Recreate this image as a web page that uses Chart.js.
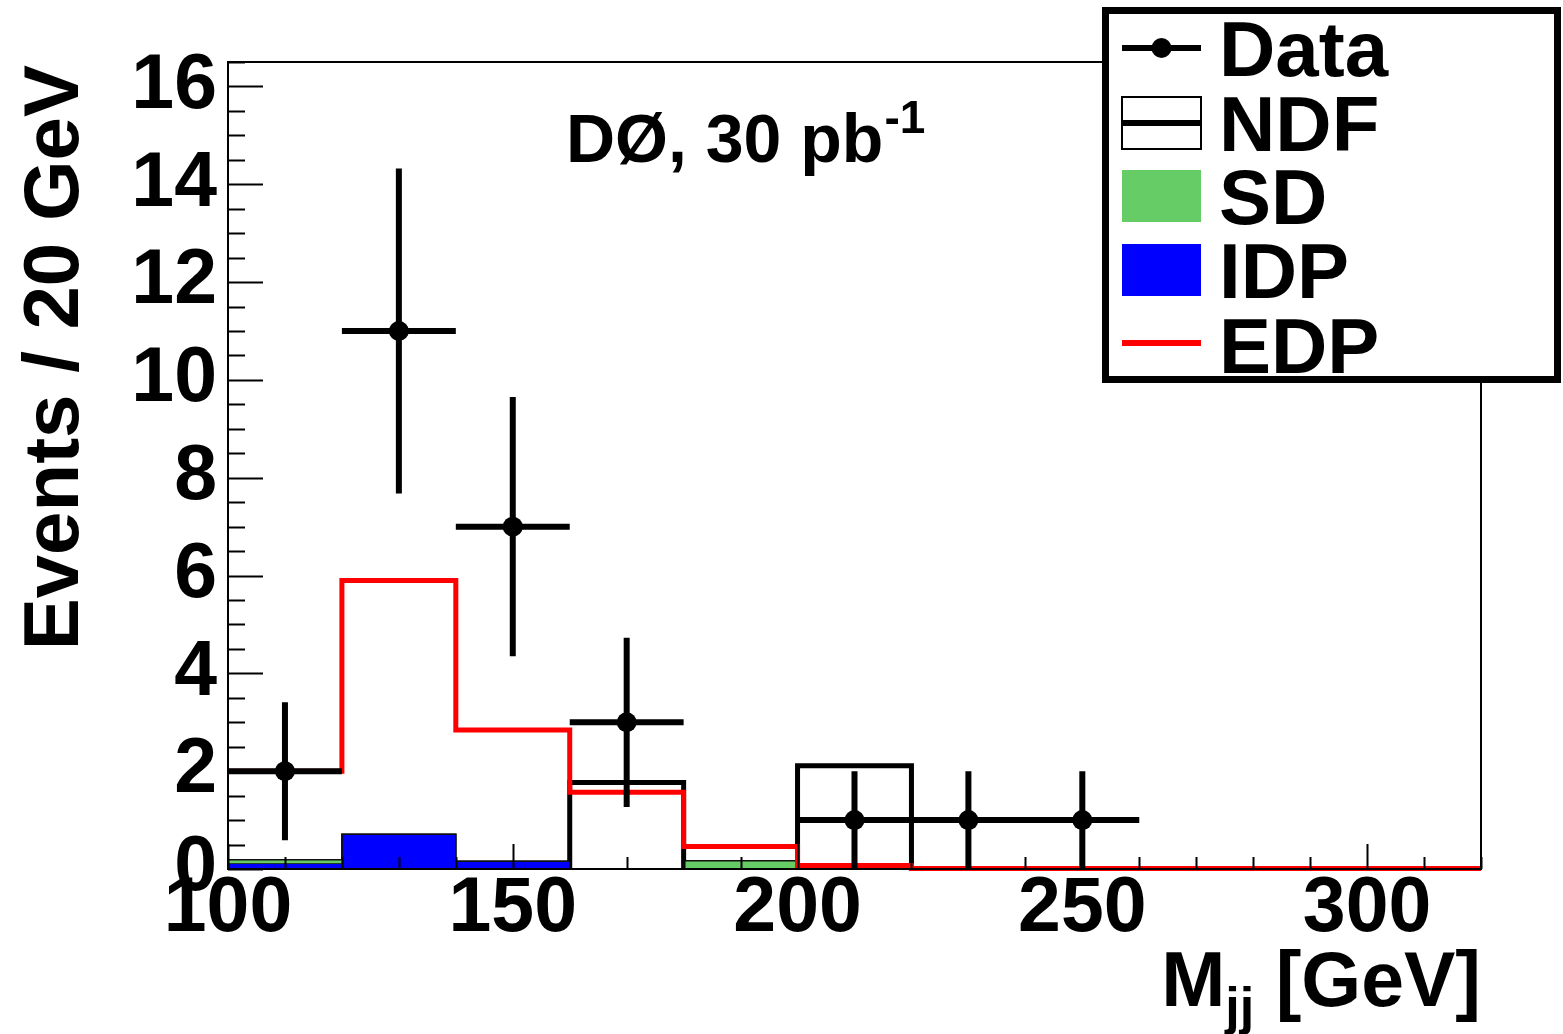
<!DOCTYPE html>
<html>
<head>
<meta charset="utf-8">
<script src="https://cdn.jsdelivr.net/npm/chart.js@4.4.0/dist/chart.umd.min.js"></script>
<style>
  html, body { margin: 0; padding: 0; background: #fff; }
  #wrap { width: 1563px; height: 1034px; position: relative; }
</style>
</head>
<body>
<div id="wrap"><canvas id="mjjChart"></canvas></div>
<script>
// bin edges of the 20 GeV histogram
const binEdges = [100, 120, 140, 160, 180, 200, 220, 240, 260, 280, 300, 320];

// MC templates (events per bin)
const ndfValues = [0, 0, 0, 1.77, 0, 2.11, 0, 0, 0, 0, 0];
const sdValues  = [0.07, 0, 0, 0, 0.17, 0, 0, 0, 0, 0, 0];
const idpValues = [0.12, 0.71, 0.16, 0, 0, 0, 0, 0, 0, 0, 0];
const edpValues = [2.0, 5.9, 2.84, 1.57, 0.46, 0.07, 0.01, 0.01, 0.01, 0.01, 0.01];

// data points
const dataX   = [110, 130, 150, 170, 210, 230, 250];
const dataY   = [2, 11, 7, 3, 1, 1, 1];
const dataErr = [1.41, 3.32, 2.65, 1.73, 1, 1, 1];

const xTickValues = [100, 150, 200, 250, 300];
const yTickValues = [0, 2, 4, 6, 8, 10, 12, 14, 16];
const legendLabels = ['Data', 'NDF', 'SD', 'IDP', 'EDP'];

const FONT = '"Liberation Sans", Arial, Helvetica, sans-serif';
const GREEN = '#66cc66';
const BLUE = '#0000ff';
const RED = '#ff0000';

// histogram -> step points, one per edge
function toSteps(vals) {
    return binEdges.map((e, i) => ({ x: e, y: vals[Math.min(i, vals.length - 1)] }));
}
const sdStacked = sdValues.map((v, i) => v + idpValues[i]);

// ticks inside the frame + frame itself, ROOT style
const frameTicks = {
    id: 'frameTicks',
    afterDatasetsDraw(chart) {
        const { ctx, chartArea: a, scales: { x, y } } = chart;
        ctx.save();
        ctx.strokeStyle = '#000';
        ctx.lineWidth = 2;
        ctx.beginPath();
        for (let v = 0; v <= 16.5; v += 0.5) {
            const py = Math.round(y.getPixelForValue(v)) + 0.5;
            const len = v % 2 === 0 ? 35 : 17;
            ctx.moveTo(a.left, py);
            ctx.lineTo(a.left + len, py);
        }
        for (let v = 100; v <= 320; v += 10) {
            const px = Math.round(x.getPixelForValue(v)) + 0.5;
            const len = v % 50 === 0 ? 25 : 12;
            ctx.moveTo(px, a.bottom);
            ctx.lineTo(px, a.bottom - len);
        }
        ctx.stroke();
        ctx.strokeRect(a.left, a.top, a.right - a.left, a.bottom - a.top);

        // data error bars
        ctx.lineWidth = 6;
        ctx.beginPath();
        dataX.forEach((xv, i) => {
            const px = x.getPixelForValue(xv);
            const py = y.getPixelForValue(dataY[i]);
            ctx.moveTo(x.getPixelForValue(xv - 10), py);
            ctx.lineTo(x.getPixelForValue(xv + 10), py);
            ctx.moveTo(px, y.getPixelForValue(dataY[i] + dataErr[i]));
            ctx.lineTo(px, y.getPixelForValue(Math.max(0, dataY[i] - dataErr[i])));
        });
        ctx.stroke();
        ctx.restore();
    }
};

// titles, label and legend
const annotations = {
    id: 'annotations',
    afterDraw(chart) {
        const { ctx, chartArea: a } = chart;
        ctx.save();
        ctx.fillStyle = '#000';

        // y title, right aligned to top of frame
        ctx.save();
        ctx.translate(78, 65);
        ctx.rotate(-Math.PI / 2);
        ctx.font = 'bold 78px ' + FONT;
        ctx.textAlign = 'right';
        ctx.textBaseline = 'alphabetic';
        ctx.fillText('Events / 20 GeV', 0, 0);
        ctx.restore();

        // x title M_jj [GeV]
        ctx.textBaseline = 'alphabetic';
        ctx.textAlign = 'left';
        ctx.font = 'bold 77px ' + FONT;
        const wM = ctx.measureText('M').width;
        const wRest = ctx.measureText(' [GeV]').width;
        ctx.font = 'bold 52px ' + FONT;
        const wSub = ctx.measureText('jj').width;
        let tx = a.right - (wM + wSub + wRest);
        ctx.font = 'bold 77px ' + FONT;
        ctx.fillText('M', tx, 1006);
        ctx.font = 'bold 52px ' + FONT;
        ctx.fillText('jj', tx + wM, 1024);
        ctx.font = 'bold 77px ' + FONT;
        ctx.fillText(' [GeV]', tx + wM + wSub, 1006);

        // experiment label
        ctx.font = 'bold 68px ' + FONT;
        ctx.fillText('DØ, 30 pb', 566, 162);
        const wLab = ctx.measureText('DØ, 30 pb').width;
        ctx.font = 'bold 46px ' + FONT;
        ctx.fillText('-1', 566 + wLab + 1, 133);

        // legend
        const bx = 1105, by = 10, bw = 452, bh = 369;
        ctx.fillStyle = '#fff';
        ctx.fillRect(bx, by, bw, bh);
        ctx.lineWidth = 7;
        ctx.strokeStyle = '#000';
        ctx.strokeRect(bx + 0.5, by + 0.5, bw, bh);

        const rowY = [48, 123, 196, 270, 345];
        const sx0 = 1122, sx1 = 1201;
        // Data
        ctx.lineWidth = 6;
        ctx.beginPath();
        ctx.moveTo(sx0, rowY[0]); ctx.lineTo(sx1, rowY[0]);
        ctx.stroke();
        ctx.fillStyle = '#000';
        ctx.beginPath();
        ctx.arc((sx0 + sx1) / 2, rowY[0], 10, 0, Math.PI * 2);
        ctx.fill();
        // NDF
        ctx.lineWidth = 2;
        ctx.strokeRect(sx0, rowY[1] - 26, sx1 - sx0, 52);
        ctx.lineWidth = 6;
        ctx.beginPath();
        ctx.moveTo(sx0, rowY[1]); ctx.lineTo(sx1, rowY[1]);
        ctx.stroke();
        // SD
        ctx.fillStyle = GREEN;
        ctx.fillRect(sx0, rowY[2] - 26, sx1 - sx0, 52);
        // IDP
        ctx.fillStyle = BLUE;
        ctx.fillRect(sx0, rowY[3] - 26, sx1 - sx0, 52);
        // EDP
        ctx.strokeStyle = RED;
        ctx.lineWidth = 6;
        ctx.beginPath();
        ctx.moveTo(sx0, rowY[4] - 2); ctx.lineTo(sx1, rowY[4] - 2);
        ctx.stroke();

        ctx.fillStyle = '#000';
        ctx.font = 'bold 78px ' + FONT;
        ctx.textBaseline = 'alphabetic';
        legendLabels.forEach((lab, i) => ctx.fillText(lab, 1219, rowY[i] + 28));
        ctx.restore();
    }
};

const ctx = document.getElementById('mjjChart').getContext('2d');
new Chart(ctx, {
    type: 'line',
    data: {
        datasets: [
            {
                label: 'NDF',
                data: toSteps(ndfValues),
                stepped: true,
                borderColor: '#000',
                borderWidth: 5,
                pointRadius: 0,
                fill: false,
                order: 5
            },
            {
                label: 'IDP',
                data: toSteps(idpValues),
                stepped: true,
                borderColor: '#111',
                borderWidth: 1.5,
                backgroundColor: BLUE,
                pointRadius: 0,
                fill: 'origin',
                order: 4
            },
            {
                label: 'SD',
                data: toSteps(sdStacked),
                stepped: true,
                borderColor: '#111',
                borderWidth: 1.5,
                backgroundColor: GREEN,
                pointRadius: 0,
                fill: 1,
                order: 3
            },
            {
                label: 'EDP',
                data: toSteps(edpValues),
                stepped: true,
                borderColor: RED,
                borderWidth: 5,
                pointRadius: 0,
                fill: false,
                clip: 4,
                order: 2
            },
            {
                label: 'Data',
                type: 'scatter',
                data: dataX.map((xv, i) => ({ x: xv, y: dataY[i] })),
                pointRadius: 10,
                pointBackgroundColor: '#000',
                pointBorderWidth: 0,
                showLine: false,
                order: 1
            }
        ]
    },
    options: {
        responsive: true,
        maintainAspectRatio: false,
        animation: false,
        layout: { padding: { top: 62, right: 82, left: 0, bottom: 0 } },
        plugins: {
            legend: { display: false },
            tooltip: { enabled: false }
        },
        scales: {
            x: {
                type: 'linear',
                min: 100,
                max: 320,
                border: { display: false },
                grid: { display: false, drawTicks: false },
                afterBuildTicks: s => { s.ticks = xTickValues.map(v => ({ value: v })); },
                afterFit: s => { s.height = 165; },
                ticks: {
                    color: '#000',
                    padding: 2,
                    maxRotation: 0,
                    autoSkip: false,
                    font: { family: FONT, size: 77, weight: 'bold', lineHeight: 1 }
                }
            },
            y: {
                type: 'linear',
                min: 0,
                max: 16.5,
                border: { display: false },
                grid: { display: false, drawTicks: false },
                afterBuildTicks: s => { s.ticks = yTickValues.map(v => ({ value: v })); },
                afterFit: s => { s.width = 228; },
                ticks: {
                    color: '#000',
                    padding: 11,
                    autoSkip: false,
                    font: { family: FONT, size: 77, weight: 'bold', lineHeight: 1 }
                }
            }
        }
    },
    plugins: [frameTicks, annotations]
});
</script>
</body>
</html>
